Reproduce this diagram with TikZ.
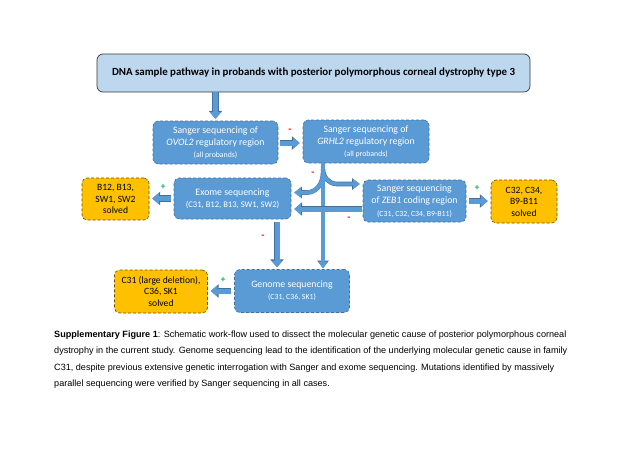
\documentclass[tikz,border=0pt]{standalone}
\usepackage{fontspec}
\setmainfont{Carlito}
\newfontfamily\capfont{Liberation Sans}
\usetikzlibrary{arrows.meta,calc}
\definecolor{boxblue}{HTML}{5B9BD5}
\definecolor{boxedge}{HTML}{41719C}
\definecolor{titlefill}{HTML}{BDD7EE}
\definecolor{titleedge}{HTML}{3A3A3A}
\definecolor{gold}{HTML}{FFC000}
\definecolor{goldedge}{HTML}{6B5000}
\definecolor{minusred}{HTML}{FF0000}
\definecolor{plusgreen}{HTML}{00B050}
\tikzset{
  stepbox/.style={rectangle, rounded corners=5pt, fill=boxblue, draw=boxedge, densely dashed, line width=0.6pt, text=white, align=center, inner sep=1pt, font=\fontsize{9.8}{12.2}\selectfont},
  solvedbox/.style={rectangle, rounded corners=5pt, fill=gold, draw=goldedge, densely dashed, line width=0.6pt, text=black, align=center, inner sep=1pt, font=\fontsize{9.6}{11.5}\selectfont},
  blk/.style={line width=5pt, draw=boxblue, -{Triangle[width=11pt,length=6.5pt]},
    preaction={draw=boxedge, line width=6.4pt, -{Triangle[width=13pt,length=7.8pt]}}},
  blkthin/.style={line width=3.4pt, draw=boxblue, -{Triangle[width=9.5pt,length=6.5pt]},
    preaction={draw=boxedge, line width=4.6pt, -{Triangle[width=11.2pt,length=7.6pt]}}},
  minus/.style={text=minusred, font=\fontsize{10}{10}\selectfont\bfseries, inner sep=0pt},
  plus/.style={text=plusgreen, font=\fontsize{9}{9}\selectfont\bfseries, inner sep=0pt}
}
\newcommand{\smalltxt}{\fontsize{7.8}{9.5}\selectfont}
\begin{document}
\begin{tikzpicture}[x=1pt,y=-1pt]
\useasboundingbox[fill=white] (0,0) rectangle (640,453);

% nodes
\node[rectangle, rounded corners=6pt, fill=titlefill, draw=titleedge, line width=0.7pt,
      minimum width=433pt, minimum height=38pt, font=\fontsize{10.9}{13}\selectfont\bfseries]
  (title) at (313.5,73) {DNA sample pathway in probands with posterior polymorphous corneal dystrophy type 3};

\node[stepbox, minimum width=125pt, minimum height=43pt] (ovol) at (215.5,142.5)
  {Sanger sequencing of\\\textit{OVOL2} regulatory region\\{\smalltxt (all probands)}};
\node[stepbox, minimum width=126pt, minimum height=43pt] (grhl) at (366,141.5)
  {Sanger sequencing of\\\textit{GRHL2} regulatory region\\{\smalltxt (all probands)}};
\node[stepbox, minimum width=117pt, minimum height=41pt] (exome) at (232.5,198.5)
  {Exome sequencing\\{\fontsize{8.6}{11}\selectfont (C31, B12, B13, SW1, SW2)}};
\node[stepbox, minimum width=103pt, minimum height=42pt] (zeb) at (414.5,201)
  {Sanger sequencing\\of \textit{ZEB1} coding region\\{\smalltxt (C31, C32, C34, B9-B11)}};
\node[stepbox, minimum width=115pt, minimum height=43pt] (genome) at (292,291)
  {Genome sequencing\\{\smalltxt (C31, C36, SK1)}};

\node[solvedbox, minimum width=67pt, minimum height=42pt] (solvedA) at (115.5,199)
  {B12, B13,\\SW1, SW2\\solved};
\node[solvedbox, minimum width=66pt, minimum height=43pt] (solvedB) at (524,201.5)
  {C32, C34,\\B9-B11\\solved};
\node[solvedbox, minimum width=93pt, minimum height=43pt] (solvedC) at (161,291.5)
  {C31 (large deletion),\\C36, SK1\\solved};

% connectors
\draw[blk, shorten >=2pt] (title.south -| ovol.north) -- (ovol.north);
\draw[blk, shorten <=2pt, shorten >=3pt] (ovol.east |- 0,143) -- (grhl.west |- 0,143);

\coordinate (vtop) at ([xshift=-43pt]grhl.south);
\coordinate (zin) at ([yshift=17pt]zeb.west);
\coordinate (ein) at ([yshift=6pt]exome.east);
\draw[blkthin, shorten >=3pt] ([yshift=-6pt]vtop) to[out=-90,in=180] ($(vtop |- zin)+(14,0)$) -- (zin);
\draw[blkthin, line width=4pt, shorten >=3pt] ([yshift=-10pt]vtop) to[out=-90,in=0] ($(vtop |- ein)+(-16,0)$) -- (ein);
\draw[blkthin, shorten >=1pt] (vtop) -- (vtop |- genome.north);

\coordinate (zout) at ([yshift=-8pt]zeb.west);
\draw[blk, shorten <=1pt, shorten >=3pt] (zout) -- (zout -| exome.east);

\coordinate (edown) at ([xshift=44.5pt]exome.south);
\draw[blk, shorten <=3pt, shorten >=2pt] (edown) -- (edown |- genome.north);

\draw[blk, shorten <=3pt, shorten >=3pt] (exome.west) -- (exome.west -| solvedA.east);
\draw[blk, shorten <=3pt, shorten >=3pt] (zeb.east) -- (zeb.east -| solvedB.west);
\draw[blk, shorten <=3pt, shorten >=3pt] (genome.west) -- (genome.west -| solvedC.east);

% signs
\node[minus] (m1) at (290,131) {-};
\node[minus] (m2) at (313,174) {-};
\node[minus] (m3) at (349,219) {-};
\node[minus] (m4) at (263,237) {-};
\node[plus] (p1) at (477,188) {+};
\node[plus] (p2) at (163,187) {+};
\node[plus] (p3) at (223,280) {+};

% caption
\node[anchor=north west, align=left, inner sep=0pt, font=\capfont\fontsize{9.1}{16.2}\selectfont] (caption) at (54,331)
  {\textbf{Supplementary Figure 1}: Schematic work-flow used to dissect the molecular genetic cause of posterior polymorphous corneal\\
   dystrophy in the current study. Genome sequencing lead to the identification of the underlying molecular genetic cause in family\\
   C31, despite previous extensive genetic interrogation with Sanger and exome sequencing. Mutations identified by massively\\
   parallel sequencing were verified by Sanger sequencing in all cases.};
\end{tikzpicture}
\end{document}
